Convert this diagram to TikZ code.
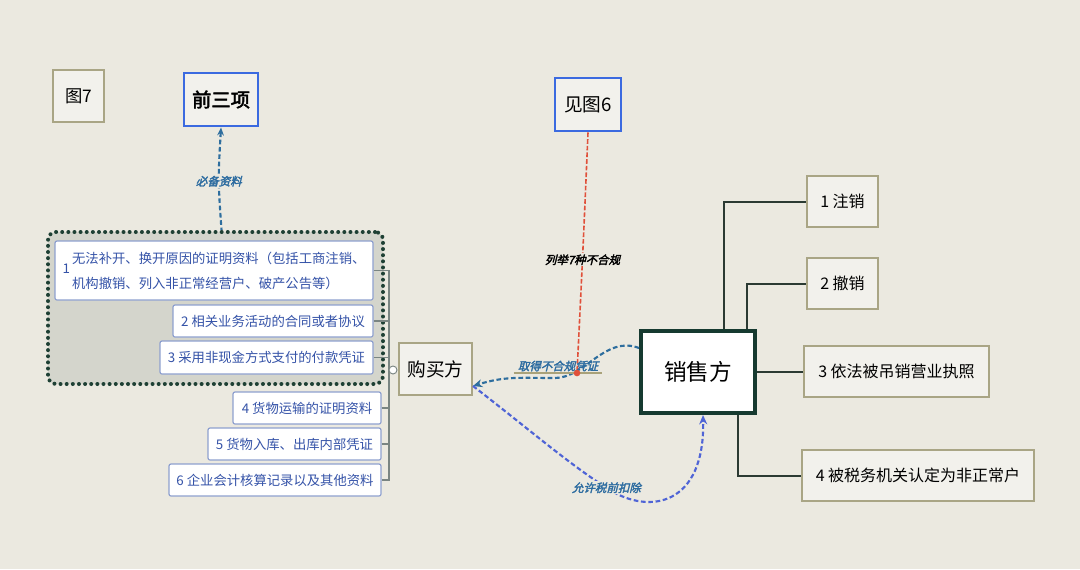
\documentclass[tikz,border=0pt]{standalone}
\usepackage{fontspec}
\setmainfont{Noto Sans CJK SC}
\newfontfamily\slfont[FakeSlant=0.25,FakeBold=2.5]{Noto Sans CJK SC}
\newfontfamily\bdfont[FakeBold=2.5]{Noto Sans CJK SC}
\usetikzlibrary{arrows.meta}
\definecolor{bg}{HTML}{EBE9E0}
\definecolor{khakiline}{HTML}{A9A585}
\definecolor{khakifill}{HTML}{F2F1EC}
\definecolor{boxblue}{HTML}{3B6AE0}
\definecolor{grpfill}{HTML}{D4D5CC}
\definecolor{grpline}{HTML}{1E4034}
\definecolor{itemline}{HTML}{8EA0CF}
\definecolor{itemtext}{HTML}{3553A8}
\definecolor{selldark}{HTML}{163A30}
\definecolor{linkdark}{HTML}{2B3A33}
\definecolor{brkgrey}{HTML}{7A8582}
\definecolor{reddash}{HTML}{E0503A}
\definecolor{dblue}{HTML}{2E6E9E}
\definecolor{pblue}{HTML}{4F64D6}
\definecolor{lblblue}{HTML}{2D6CA0}
\definecolor{olive}{HTML}{A9A27A}
\begin{document}
\begin{tikzpicture}[x=0.75pt,y=-0.75pt,
  khaki/.style={draw=khakiline, line width=1.5pt, fill=khakifill, inner sep=0pt, text=black},
  bluebox/.style={draw=boxblue, line width=2.2pt, fill=khakifill, inner sep=0pt, text=black, font=\fontsize{14}{16}\selectfont},
  item/.style={draw=itemline, line width=0.9pt, fill=white, rounded corners=1.5pt, text=itemtext, inner sep=0pt, font=\fontsize{10}{12}\selectfont},
  rbox/.style={khaki, font=\fontsize{12}{14}\selectfont},
  sellbox/.style={draw=selldark, line width=3pt, fill=white, inner sep=0pt, font=\fontsize{17}{19}\selectfont},
  grpbox/.style={draw=grpline, fill=grpfill, line width=3pt, line cap=round, dash pattern=on 0pt off 4.6pt, rounded corners=6pt, inner sep=0pt},
  link/.style={draw=linkdark, line width=1.5pt},
  brk/.style={draw=brkgrey, line width=0.9pt},
  lbl/.style={font=\slfont\fontsize{8.6}{10}\selectfont, inner sep=1pt},
  dlink/.style={draw=dblue, line width=1.6pt, dash pattern=on 3.5pt off 2pt},
  plink/.style={draw=pblue, line width=1.6pt, dash pattern=on 3.5pt off 2pt},
  rlink/.style={draw=reddash, line width=1.2pt, dash pattern=on 3.5pt off 1.5pt}
]
\fill[bg] (0,0) rectangle (1080,569);
\useasboundingbox (0,0) rectangle (1080,569);

% top boxes
\node[khaki, font=\fontsize{13}{15}\selectfont, minimum width=38.25pt, minimum height=39pt] (fig7) at (78.5,96) {图7};
\node[bluebox, font=\bdfont\fontsize{14.5}{16}\selectfont, minimum width=55.5pt, minimum height=39.75pt] (qian) at (221,99.5) {前三项};
\node[bluebox, minimum width=49.5pt, minimum height=39.75pt] (jian) at (588,104.5) {见图6};

% group
\node[grpbox, minimum width=251.25pt, minimum height=114pt] (grp) at (215.5,308) {};

% items
\node[item, minimum width=238.5pt, minimum height=44.25pt] (b1) at (214,270.5)
  {1\,\fontsize{10}{18.75}\selectfont\begin{tabular}[c]{@{}l@{}}无法补开、换开原因的证明资料（包括工商注销、\\机构撤销、列入非正常经营户、破产公告等）\end{tabular}};
\node[item, minimum width=150pt, minimum height=24pt] (b2) at (273,321) {2 相关业务活动的合同或者协议};
\node[item, minimum width=159.75pt, minimum height=24.75pt] (b3) at (266.5,357.5) {3 采用非现金方式支付的付款凭证};
\node[item, minimum width=111pt, minimum height=24pt] (b4) at (307,408) {4 货物运输的证明资料};
\node[item, minimum width=129.75pt, minimum height=24pt] (b5) at (294.5,444) {5 货物入库、出库内部凭证};
\node[item, minimum width=159pt, minimum height=24pt] (b6) at (275,480) {6 企业会计核算记录以及其他资料};

% buyer / seller
\node[khaki, font=\fontsize{14}{16}\selectfont, minimum width=54.75pt, minimum height=39pt] (buy) at (435.5,369) {购买方};
\node[sellbox, minimum width=85.5pt, minimum height=61.5pt] (sell) at (698,372) {销售方};

% right boxes
\node[rbox, minimum width=53.25pt, minimum height=38.25pt] (r1) at (842.5,201.5) {1 注销};
\node[rbox, minimum width=53.25pt, minimum height=38.25pt] (r2) at (842.5,283.5) {2 撤销};
\node[rbox, minimum width=138.75pt, minimum height=38.25pt] (r3) at (896.5,371.5) {3 依法被吊销营业执照};
\node[rbox, minimum width=174pt, minimum height=38.25pt] (r4) at (918,475.5) {4 被税务机关认定为非正常户};

% seller connectors
\draw[link] ([xshift=19.5pt]sell.north) |- (r1.west);
\draw[link] ([xshift=36.75pt]sell.north) |- (r2.west);
\draw[link] (sell.east) -- (sell.east -| r3.west);
\draw[link] ([xshift=30pt]sell.south) |- (r4.west);

% bracket
\coordinate (bx) at (389,0);
\draw[brk] (b1.east) -- (b1.east -| bx) -- (b6.east -| bx) -- (b6.east);
\draw[brk] (b2.east) -- (b2.east -| bx);
\draw[brk] (b3.east) -- (b3.east -| bx);
\draw[brk] (b4.east) -- (b4.east -| bx);
\draw[brk] (b5.east) -- (b5.east -| bx);
\node[circle, draw=brkgrey, fill=white, line width=0.7pt, minimum size=6pt, inner sep=0pt] (knob) at (393,370) {};

% must-have link
\draw[dlink, {Stealth[length=6pt,width=5pt]}-] (qian.south) .. controls (218,180) .. ([xshift=4.5pt]grp.north)
  node[pos=0.52, lbl, fill=bg, text=lblblue] {必备资料};

% red link
\coordinate (redend) at (577,373);
\draw[rlink] (jian.south) .. controls (583,250) .. (redend)
  node[pos=0.55, lbl, fill=bg, text=black] {列举7种不合规};

% obtaining link
\draw[dlink, -{Stealth[length=7pt,width=6pt]}] ([yshift=18pt]sell.west) .. controls (605,335) and (585,378) .. (555,378)
  .. controls (520,378) and (505,376) .. ([yshift=-12.75pt]buy.east);
\node[lbl, text=lblblue] (lq) at (558,366) {取得不合规凭证};
\draw[olive, line width=0.9pt] ([xshift=-2pt]lq.south west) -- ([xshift=2pt]lq.south east);
\node[circle, fill=reddash, minimum size=5pt, inner sep=0pt] (dot) at (redend) {};

% deduction link
\draw[plink, -{Stealth[length=7pt,width=6pt]}] ([yshift=-12.75pt]buy.east) .. controls (530,430) and (570,465) .. (610,490)
  node[pos=0.97, lbl, fill=bg, text=lblblue] {允许税前扣除}
  .. controls (650,515) and (705,505) .. ([xshift=3.75pt]sell.south);
\end{tikzpicture}
\end{document}
